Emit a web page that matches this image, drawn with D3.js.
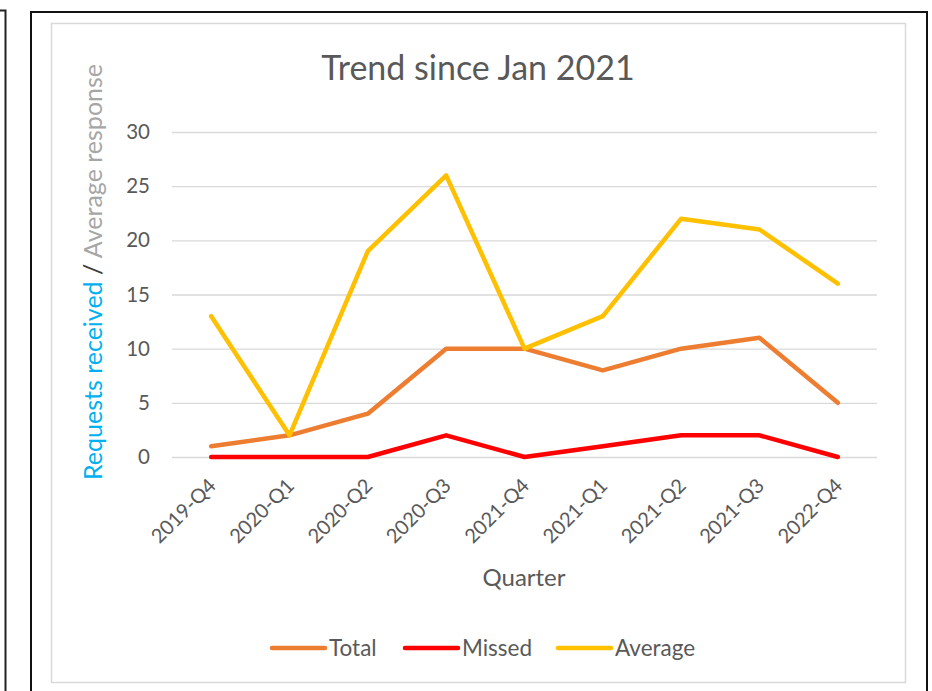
<!DOCTYPE html>
<html>
<head>
<meta charset="utf-8">
<script src="https://cdn.jsdelivr.net/npm/d3@7"></script>
<style>
  body { margin: 0; background: #fff; }
  svg { display: block; font-family: Lato, "Open Sans", sans-serif; }
</style>
</head>
<body>
<div id="chart"></div>
<script>
const quarters = ["2019-Q4", "2020-Q1", "2020-Q2", "2020-Q3", "2021-Q4", "2021-Q1", "2021-Q2", "2021-Q3", "2022-Q4"];
const total = [1, 2, 4, 10, 10, 8, 10, 11, 5];
const missed = [0, 0, 0, 2, 0, 1, 2, 2, 0];
const average = [13, 2, 19, 26, 10, 13, 22, 21, 16];
const yTicks = [0, 5, 10, 15, 20, 25, 30];

const series = [
  { name: "Total", values: total, color: "#ED7D31" },
  { name: "Missed", values: missed, color: "#FF0000" },
  { name: "Average", values: average, color: "#FFC000" },
];

const width = 932, height = 691;
const textColor = "#595959";

const svg = d3.select("#chart").append("svg")
  .attr("width", width)
  .attr("height", height);

// frames around the chart (page borders)
svg.append("path")
  .attr("d", "M0,10.5 H5.5 V691")
  .attr("fill", "none").attr("stroke", "#222").attr("stroke-width", 2);
svg.append("rect")
  .attr("x", 31).attr("y", 12).attr("width", 896).attr("height", 700)
  .attr("fill", "none").attr("stroke", "#111").attr("stroke-width", 2);
svg.append("rect")
  .attr("x", 51.5).attr("y", 23.5).attr("width", 854).attr("height", 659)
  .attr("fill", "none").attr("stroke", "#d9d9d9").attr("stroke-width", 1.5);

const x = d3.scaleBand().domain(quarters).range([172, 877]);
const y = d3.scaleLinear().domain([0, 30]).range([457, 132]);
const cx = d => x(d) + x.bandwidth() / 2;

// gridlines + y labels
const yAxis = svg.append("g")
  .attr("transform", "translate(172,0)")
  .call(d3.axisLeft(y).tickValues(yTicks).tickSize(-(877 - 172)).tickPadding(22));
yAxis.select(".domain").remove();
yAxis.selectAll(".tick line").attr("stroke", "#d9d9d9").attr("stroke-width", 1.3);
yAxis.selectAll(".tick text")
  .attr("fill", textColor)
  .style("font-size", "20.5px")
  .style("font-family", "Lato, sans-serif");

// x labels
const xAxis = svg.append("g")
  .attr("transform", "translate(0,457)")
  .call(d3.axisBottom(x).tickSize(0).tickPadding(0));
xAxis.select(".domain").remove();
xAxis.selectAll(".tick text")
  .attr("fill", textColor)
  .style("font-size", "20px")
  .style("font-family", "Lato, sans-serif")
  .attr("text-anchor", "end")
  .attr("dy", 0)
  .attr("y", 0)
  .attr("transform", "translate(6,30) rotate(-45)");

// lines
const line = d3.line()
  .x((d, i) => cx(quarters[i]))
  .y(d => y(d));

svg.append("g").selectAll("path")
  .data(series)
  .join("path")
  .attr("d", d => line(d.values))
  .attr("fill", "none")
  .attr("stroke", d => d.color)
  .attr("stroke-width", 4.5)
  .attr("stroke-linejoin", "round")
  .attr("stroke-linecap", "round");

// title
svg.append("text")
  .attr("x", 478).attr("y", 80)
  .attr("text-anchor", "middle")
  .attr("fill", textColor)
  .style("font-size", "34px")
  .text("Trend since Jan 2021");

// y axis title
const yTitle = svg.append("text")
  .attr("transform", "translate(102,272) rotate(-90)")
  .attr("text-anchor", "middle")
  .style("font-size", "25px");
yTitle.append("tspan").attr("fill", "#00B0F0").text("Requests received");
yTitle.append("tspan").attr("fill", "#404040").text(" / ");
yTitle.append("tspan").attr("fill", "#A6A6A6").text("Average response");

// x axis title
svg.append("text")
  .attr("x", 524).attr("y", 586)
  .attr("text-anchor", "middle")
  .attr("fill", textColor)
  .style("font-size", "24px")
  .text("Quarter");

// legend
const legendX = [270, 403, 556];
const legend = svg.append("g").selectAll("g")
  .data(series)
  .join("g")
  .attr("transform", (d, i) => `translate(${legendX[i]},648)`);
legend.append("line")
  .attr("x1", 2).attr("x2", 55)
  .attr("stroke", d => d.color)
  .attr("stroke-width", 4.5)
  .attr("stroke-linecap", "round");
legend.append("text")
  .attr("x", 59).attr("y", 8)
  .attr("fill", textColor)
  .style("font-size", "22.5px")
  .text(d => d.name);
</script>
</body>
</html>
